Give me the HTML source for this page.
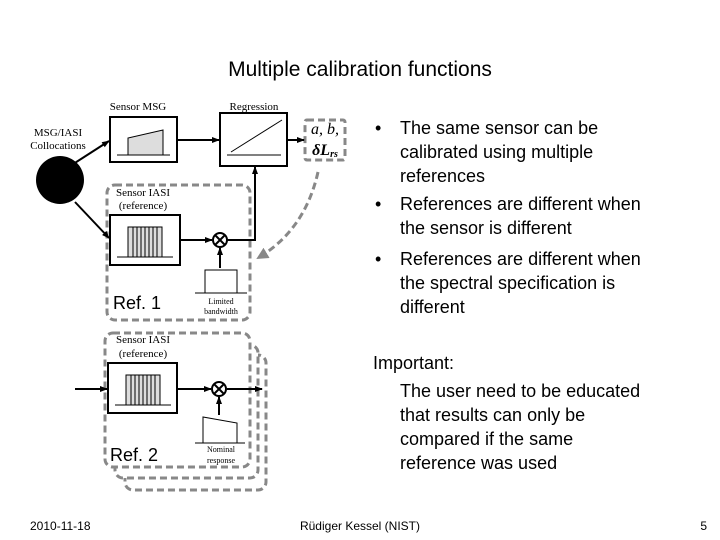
<!DOCTYPE html>
<html><head><meta charset="utf-8"><style>html,body{margin:0;padding:0;background:#fff}svg{display:block}</style></head>
<body>
<svg width="720" height="540" viewBox="0 0 720 540" xmlns="http://www.w3.org/2000/svg">
<defs><marker id="ah" markerWidth="8" markerHeight="8" refX="7" refY="4" orient="auto" markerUnits="userSpaceOnUse"><path d="M0,1 L8,4 L0,7 z" fill="#000"/></marker>
<marker id="ag" markerWidth="12" markerHeight="12" refX="10" refY="6" orient="auto" markerUnits="userSpaceOnUse"><path d="M0,0 L12,6 L0,12 z" fill="#888"/></marker></defs>
<g fill="#fff" stroke="#888" stroke-width="3" stroke-dasharray="7,4">
<rect x="125" y="355" width="141" height="135" rx="8"/>
<rect x="115" y="345" width="143" height="133" rx="8"/>
<rect x="105" y="333" width="145" height="134" rx="8"/>
<rect x="305" y="120" width="40" height="40" rx="2" fill="none"/>
<rect x="107" y="185" width="143" height="135" rx="8" fill="none"/>
<path d="M318,172 Q305,230 258,258" fill="none" marker-end="url(#ag)"/>
</g>
<g font-family="Liberation Sans, sans-serif" fill="#000">
<text x="360" y="76" font-size="21" text-anchor="middle">Multiple calibration functions</text>
<g font-size="18">
<text x="375" y="134">•</text><text x="400" y="134">The same sensor can be</text>
<text x="400" y="158">calibrated using multiple</text>
<text x="400" y="182">references</text>
<text x="375" y="210">•</text><text x="400" y="210">References are different when</text>
<text x="400" y="234">the sensor is different</text>
<text x="375" y="265">•</text><text x="400" y="265">References are different when</text>
<text x="400" y="289">the spectral specification is</text>
<text x="400" y="313">different</text>
<text x="373" y="369">Important:</text>
<text x="400" y="397">The user need to be educated</text>
<text x="400" y="421">that results can only be</text>
<text x="400" y="445">compared if the same</text>
<text x="400" y="469">reference was used</text>
</g>
<text x="30" y="530" font-size="12">2010-11-18</text>
<text x="360" y="530" font-size="12" text-anchor="middle">Rüdiger Kessel (NIST)</text>
<text x="707" y="530" font-size="12" text-anchor="end">5</text>
</g>
<g font-family="Liberation Serif, serif" font-size="11" fill="#000">
<text x="138" y="110" text-anchor="middle">Sensor MSG</text>
<text x="254" y="110" text-anchor="middle">Regression</text>
<text x="58" y="136" text-anchor="middle">MSG/IASI</text>
<text x="58" y="149" text-anchor="middle">Collocations</text>
<text x="143" y="196" text-anchor="middle">Sensor IASI</text>
<text x="143" y="209" text-anchor="middle">(reference)</text>
<text x="143" y="343" text-anchor="middle">Sensor IASI</text>
<text x="143" y="357" text-anchor="middle">(reference)</text>
<text x="221" y="304" font-size="8" text-anchor="middle">Limited</text>
<text x="221" y="314" font-size="8" text-anchor="middle">bandwidth</text>
<text x="221" y="452" font-size="8" text-anchor="middle">Nominal</text>
<text x="221" y="463" font-size="8" text-anchor="middle">response</text>
<text x="325" y="134" font-size="16" font-style="italic" text-anchor="middle">a, b,</text>
<text x="325" y="155" font-size="16" font-style="italic" font-weight="bold" text-anchor="middle">δL<tspan font-size="10" dy="2">rs</tspan></text>
</g>
<g font-family="Liberation Sans, sans-serif" font-size="18">
<text x="113" y="309">Ref. 1</text>
<text x="110" y="461">Ref. 2</text>
</g>
<g fill="none" stroke="#000" stroke-width="2">
<rect x="110" y="117" width="67" height="45" fill="#fff"/>
<rect x="220" y="113" width="67" height="53" fill="#fff"/>
<rect x="110" y="215" width="70" height="50" fill="#fff"/>
<rect x="108" y="363" width="69" height="50" fill="#fff"/>
<line x1="177" y1="140" x2="219" y2="140" marker-end="url(#ah)"/>
<line x1="287" y1="140" x2="304" y2="140" marker-end="url(#ah)"/>
<line x1="67" y1="168" x2="109" y2="141" marker-end="url(#ah)"/>
<line x1="75" y1="202" x2="109" y2="238" marker-end="url(#ah)"/>
<line x1="180" y1="240" x2="212" y2="240" marker-end="url(#ah)"/>
<polyline points="227,240 255,240 255,167" marker-end="url(#ah)"/>
<line x1="220" y1="268" x2="220" y2="248" marker-end="url(#ah)"/>
<line x1="75" y1="389" x2="107" y2="389" marker-end="url(#ah)"/>
<line x1="177" y1="389" x2="211" y2="389" marker-end="url(#ah)"/>
<line x1="227" y1="389" x2="262" y2="389" marker-end="url(#ah)"/>
<line x1="219" y1="415" x2="219" y2="397" marker-end="url(#ah)"/>
</g>
<circle cx="60" cy="180" r="24" fill="#000"/>
<g stroke="#000" stroke-width="1" fill="none">
<line x1="117" y1="155" x2="170" y2="155"/>
<path d="M128,155 V138 L163,130 V155 Z" fill="#ddd"/>
<line x1="227" y1="155" x2="281" y2="155"/>
<line x1="231" y1="152" x2="282" y2="120"/>
<line x1="117" y1="257" x2="173" y2="257"/>
<rect x="128" y="227" width="34" height="30" fill="#ddd"/>
<path d="M133,227V257M137,227V257M141,227V257M145,227V257M149,227V257M153,227V257M157,227V257"/>
<line x1="115" y1="405" x2="171" y2="405"/>
<rect x="126" y="375" width="34" height="30" fill="#ddd"/>
<path d="M131,375V405M135,375V405M139,375V405M143,375V405M147,375V405M151,375V405M155,375V405"/>
<rect x="205" y="270" width="32" height="23"/>
<line x1="195" y1="293" x2="247" y2="293"/>
<path d="M203,443 V417 L237,423 V443"/>
<line x1="195" y1="443" x2="245" y2="443"/>
</g>
<g stroke="#000" stroke-width="2" fill="#fff">
<circle cx="220" cy="240" r="7"/><path d="M215,235 L225,245 M225,235 L215,245"/>
<circle cx="219" cy="389" r="7"/><path d="M214,384 L224,394 M224,384 L214,394"/>
</g>
</svg>
</body></html>
